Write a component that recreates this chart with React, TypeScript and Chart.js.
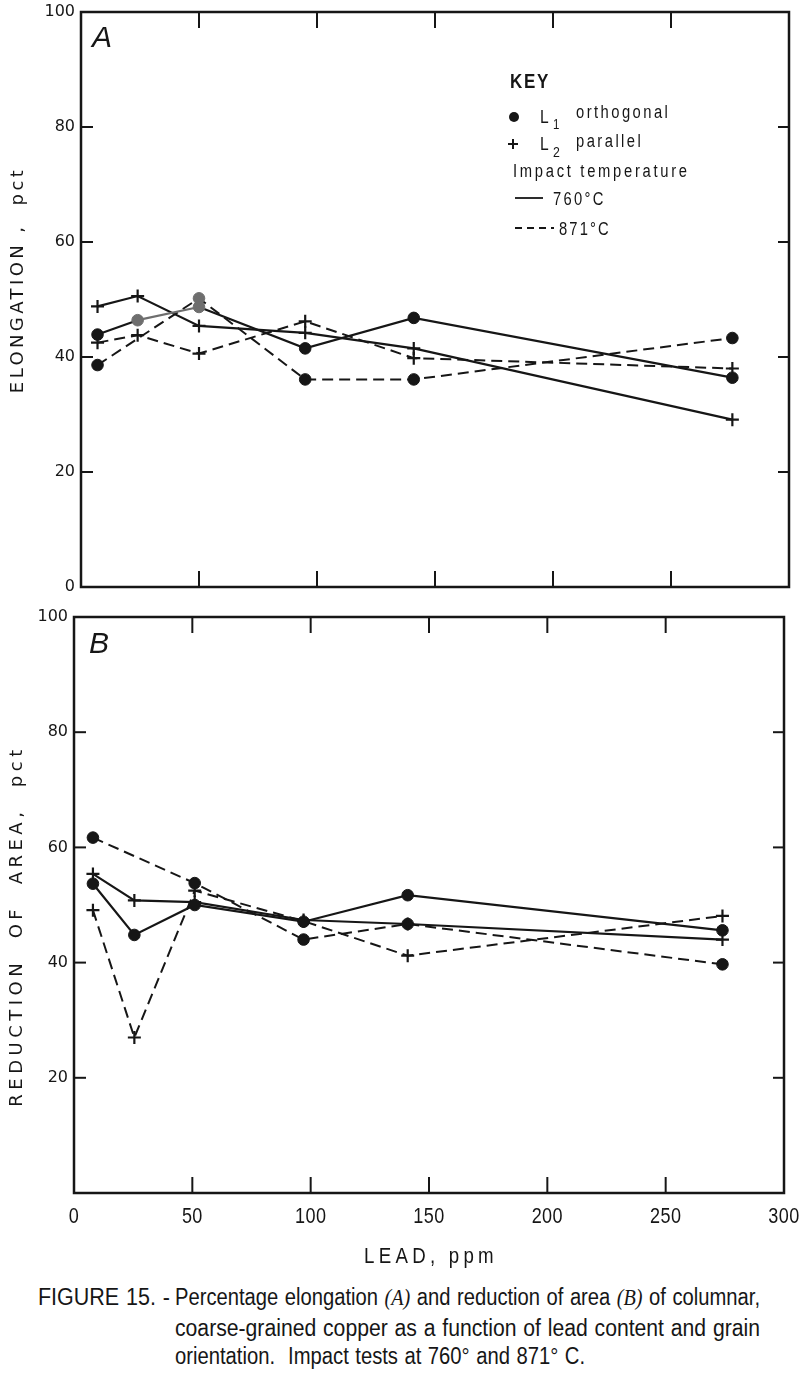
import React, { useEffect, useRef } from 'react';
import { Chart, registerables } from 'chart.js';

Chart.register(...registerables);

const NARROW = "'Liberation Sans Narrow', 'Liberation Sans', sans-serif";
const SANS = "'DejaVu Sans', sans-serif";
const INK = '#161616';
const GREY = '#6e6e6e';

// ---- Panel A: elongation, pct ----
const leadA = [7, 24, 50, 95, 141, 276];
const elongL1at760 = [43.9, 46.4, 48.7, 41.5, 46.8, 36.4];
const elongL2at760 = [48.8, 50.6, 45.4, 44.2, 41.5, 29.1];
const elongL1at871 = [38.6, null, 50.2, 36.1, 36.1, 43.3];
const elongL2at871 = [42.5, 43.8, 40.6, 46.2, 39.8, 38.0];

// ---- Panel B: reduction of area, pct ----
const leadB = [8, 25.5, 51, 97, 141, 274];
const redL1at760 = [53.7, 44.8, 50.0, 47.1, 51.7, 45.6];
const redL2at760 = [55.4, 50.8, 50.5, 47.4, 46.7, 44.0];
const redL1at871 = [61.7, null, 53.8, 44.0, 46.7, 39.7];
const redL2at871 = [49.1, 27.0, 52.5, 47.2, 41.2, 48.1];

// ---- Axes ----
const leadTicks = [0, 50, 100, 150, 200, 250, 300];
const pctTicks = [0, 20, 40, 60, 80, 100];

type Opt = {
  marker: 'circle' | 'cross';
  dashed: boolean;
  pointColors?: string[];
  greySegmentFrom?: number;
};

function series(xs: number[], ys: (number | null)[], o: Opt) {
  return {
    data: xs.map((x, i) => ({ x, y: ys[i] })),
    spanGaps: true,
    borderColor: INK,
    borderWidth: o.dashed ? 2 : 2.2,
    borderDash: o.dashed ? [11, 6] : [],
    tension: 0,
    fill: false,
    pointStyle: o.marker,
    pointRadius: o.marker === 'circle' ? 5.8 : 6.5,
    pointBorderWidth: o.marker === 'circle' ? 1 : 2.2,
    pointBackgroundColor: o.pointColors || INK,
    pointBorderColor: o.pointColors || INK,
    segment: o.greySegmentFrom !== undefined
      ? { borderColor: (c: any) => (c.p0DataIndex === o.greySegmentFrom ? GREY : INK) }
      : undefined,
  };
}

const framePlugin = {
  id: 'frameTicks',
  afterDatasetsDraw(chart: any) {
    const { ctx, chartArea: a, scales } = chart;
    const x = scales.x;
    const y = scales.y;
    ctx.save();
    ctx.strokeStyle = INK;
    ctx.lineWidth = 2.5;
    ctx.strokeRect(a.left, a.top, a.right - a.left, a.bottom - a.top);
    ctx.lineWidth = 2;
    const seg = (x0: number, y0: number, x1: number, y1: number) => {
      ctx.beginPath();
      ctx.moveTo(x0, y0);
      ctx.lineTo(x1, y1);
      ctx.stroke();
    };
    x.ticks.forEach((t: any) => {
      if (t.value <= x.min || t.value >= x.max) return;
      const px = x.getPixelForValue(t.value);
      seg(px, a.top, px, a.top + 16);
      seg(px, a.bottom - 16, px, a.bottom);
    });
    y.ticks.forEach((t: any) => {
      if (t.value <= y.min || t.value >= y.max) return;
      const py = y.getPixelForValue(t.value);
      seg(a.left, py, a.left + 12, py);
      seg(a.right - 11, py, a.right, py);
    });
    ctx.restore();
  },
};

function drawRotated(ctx: any, text: string, cx: number, cy: number, font: string, spacing: string) {
  ctx.save();
  ctx.translate(cx, cy);
  ctx.rotate(-Math.PI / 2);
  ctx.font = font;
  ctx.letterSpacing = spacing;
  ctx.textAlign = 'center';
  ctx.textBaseline = 'middle';
  ctx.fillStyle = INK;
  ctx.fillText(text, 0, 0);
  ctx.restore();
}

// condensed text: scale horizontally around the anchor x
function txt(ctx: any, text: string, x: number, y: number, font: string, spacing = '0px', sx = 1, align = 'left') {
  ctx.save();
  ctx.translate(x, y);
  ctx.scale(sx, 1);
  ctx.font = font;
  ctx.letterSpacing = spacing;
  ctx.textAlign = align;
  ctx.textBaseline = 'alphabetic';
  ctx.fillStyle = INK;
  ctx.fillText(text, 0, 0);
  ctx.restore();
}

const panelAText = {
  id: 'panelAText',
  afterDraw(chart: any) {
    const ctx = chart.ctx;
    ctx.save();
    drawRotated(ctx, 'ELONGATION ,  pct', 18, 280, `18px ${SANS}`, '3.4px');
    txt(ctx, 'A', 92, 47, `italic 30px 'Liberation Sans', sans-serif`);
    // Key
    const f = `18px ${NARROW}`;
    const sx = 0.82;
    txt(ctx, 'KEY', 510, 88, `bold 20px ${NARROW}`, '2px', 0.85);
    ctx.fillStyle = INK;
    ctx.beginPath();
    ctx.arc(514, 117, 5, 0, Math.PI * 2);
    ctx.fill();
    txt(ctx, 'L', 540, 123, `19px ${NARROW}`, '0px', sx);
    txt(ctx, '1', 553, 129, `14px ${NARROW}`, '0px', sx);
    txt(ctx, 'orthogonal', 576, 118, f, '3px', sx);
    ctx.strokeStyle = INK;
    ctx.lineWidth = 2;
    ctx.beginPath();
    ctx.moveTo(508, 144); ctx.lineTo(518, 144);
    ctx.moveTo(513, 139); ctx.lineTo(513, 149);
    ctx.stroke();
    txt(ctx, 'L', 540, 150, `19px ${NARROW}`, '0px', sx);
    txt(ctx, '2', 553, 157, `15px ${NARROW}`, '0px', sx);
    txt(ctx, 'parallel', 576, 147, f, '3px', sx);
    txt(ctx, 'Impact temperature', 513, 177, f, '3.3px', sx);
    ctx.lineWidth = 1.8;
    ctx.beginPath();
    ctx.moveTo(515, 198); ctx.lineTo(543, 198);
    ctx.stroke();
    txt(ctx, '760°C', 553, 205, f, '2.8px', sx);
    ctx.setLineDash([7, 5]);
    ctx.beginPath();
    ctx.moveTo(515, 228); ctx.lineTo(554, 228);
    ctx.stroke();
    ctx.setLineDash([]);
    txt(ctx, '871°C', 559, 235, f, '2.6px', sx);
    ctx.restore();
  },
};

const panelBText = {
  id: 'panelBText',
  afterDraw(chart: any) {
    const ctx = chart.ctx;
    ctx.save();
    drawRotated(ctx, 'REDUCTION  OF  AREA,  pct', 17, 326, `18px ${SANS}`, '4.5px');
    txt(ctx, 'B', 89, 53, `italic 30px 'Liberation Sans', sans-serif`);
    const a = chart.chartArea;
    // x tick labels (condensed) from the x scale's ticks
    const xs = chart.scales.x;
    xs.ticks.forEach((t: any) => {
      const px = xs.getPixelForValue(t.value);
      txt(ctx, String(t.value), px, a.bottom + 30, `22px ${NARROW}`, '0.5px', 0.82, 'center');
    });
    txt(ctx, 'LEAD, ppm', (a.left + a.right) / 2 + 2, 663, `22px ${NARROW}`, '5px', 0.85, 'center');
    ctx.restore();
  },
};

function makeConfig(p: {
  datasets: any[];
  top: number;
  right: number;
  yWidth: number;
  xHeight: number;
  hideZeroY: boolean;
  textPlugin: any;
}) {
  return {
    type: 'line',
    data: { datasets: p.datasets },
    options: {
      responsive: false,
      animation: false,
      layout: { padding: { top: p.top, right: p.right, left: 0, bottom: 0 } },
      plugins: { legend: { display: false }, tooltip: { enabled: false } },
      scales: {
        x: {
          type: 'linear',
          min: 0,
          max: 300,
          afterBuildTicks: (s: any) => {
            s.ticks = leadTicks.map((v) => ({ value: v }));
          },
          grid: { display: false, drawTicks: false },
          border: { display: false },
          ticks: { display: false },
          afterFit: (s: any) => {
            s.height = p.xHeight;
            s.paddingLeft = 0;
            s.paddingRight = 0;
          },
        },
        y: {
          min: 0,
          max: 100,
          afterBuildTicks: (s: any) => {
            s.ticks = pctTicks.map((v) => ({ value: v }));
          },
          grid: { display: false, drawTicks: false },
          border: { display: false },
          ticks: {
            padding: 6,
            color: INK,
            font: { family: SANS, size: 16 },
            callback: (v: any) => (p.hideZeroY && v === 0 ? '' : String(v)),
          },
          afterFit: (s: any) => {
            s.width = p.yWidth;
            s.paddingTop = 0;
            s.paddingBottom = 0;
          },
        },
      },
    },
    plugins: [framePlugin, p.textPlugin],
  };
}

const captionLines = [
  { key: 'fig', left: 38, top: 0, width: 132 },
  { key: 'l1', left: 175, top: 0, width: 585 },
  { key: 'l2', left: 175, top: 31, width: 585 },
  { key: 'l3', left: 175, top: 59, width: 410 },
];

function Caption() {
  const refs = useRef<(HTMLSpanElement | null)[]>([]);
  useEffect(() => {
    refs.current.forEach((el, i) => {
      if (!el) return;
      const w = el.getBoundingClientRect().width;
      if (w > 0) el.style.transform = `scaleX(${captionLines[i].width / w})`;
    });
  }, []);
  const it: React.CSSProperties = { fontFamily: "'Liberation Serif', serif", fontStyle: 'italic' };
  const content = [
    <>FIGURE 15. -</>,
    <>Percentage elongation <span style={it}>(A)</span> and reduction of area <span style={it}>(B)</span> of columnar,</>,
    <>coarse-grained copper as a function of lead content and grain</>,
    <>orientation.  Impact tests at 760° and 871° C.</>,
  ];
  return (
    <div style={{ position: 'absolute', left: 0, top: 1283, width: 800, height: 90 }}>
      {captionLines.map((c, i) => (
        <span
          key={c.key}
          ref={(el) => { refs.current[i] = el; }}
          style={{
            position: 'absolute',
            left: c.left,
            top: c.top,
            display: 'inline-block',
            whiteSpace: 'pre',
            fontFamily: "'Liberation Sans', sans-serif",
            fontSize: 23,
            lineHeight: '28px',
            color: INK,
            transformOrigin: 'left center',
            wordSpacing: '1px',
          }}
        >
          {content[i]}
        </span>
      ))}
    </div>
  );
}

export default function App() {
  const refA = useRef<HTMLCanvasElement>(null);
  const refB = useRef<HTMLCanvasElement>(null);

  useEffect(() => {
    document.body.style.margin = '0';
    const dsA = [
      series(leadA, elongL1at760, {
        marker: 'circle', dashed: false,
        pointColors: [INK, GREY, GREY, INK, INK, INK], greySegmentFrom: 1,
      }),
      series(leadA, elongL2at760, { marker: 'cross', dashed: false }),
      series(leadA, elongL1at871, {
        marker: 'circle', dashed: true,
        pointColors: [INK, INK, GREY, INK, INK, INK],
      }),
      series(leadA, elongL2at871, { marker: 'cross', dashed: true }),
    ];
    const dsB = [
      series(leadB, redL1at760, { marker: 'circle', dashed: false }),
      series(leadB, redL2at760, { marker: 'cross', dashed: false }),
      series(leadB, redL1at871, { marker: 'circle', dashed: true }),
      series(leadB, redL2at871, { marker: 'cross', dashed: true }),
    ];
    const a = new Chart(refA.current as any, makeConfig({
      datasets: dsA, top: 12, right: 11, yWidth: 81, xHeight: 13,
      hideZeroY: false, textPlugin: panelAText,
    }) as any);
    const b = new Chart(refB.current as any, makeConfig({
      datasets: dsB, top: 17, right: 16, yWidth: 74, xHeight: 87,
      hideZeroY: true, textPlugin: panelBText,
    }) as any);
    return () => {
      a.destroy();
      b.destroy();
    };
  }, []);

  return (
    <div style={{ position: 'relative', width: 800, height: 1373, background: '#fff', overflow: 'hidden' }}>
      <canvas ref={refA} width={800} height={600} style={{ position: 'absolute', left: 0, top: 0, width: 800, height: 600 }} />
      <canvas ref={refB} width={800} height={680} style={{ position: 'absolute', left: 0, top: 600, width: 800, height: 680 }} />
      <Caption />
    </div>
  );
}
